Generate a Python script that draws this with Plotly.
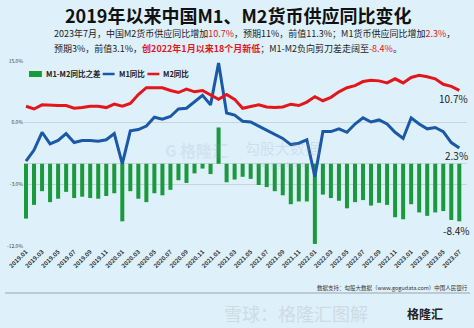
import plotly.graph_objects as go

months = [f"{y}.{m:02d}" for y in range(2019, 2024) for m in range(1, 13)][:55]

m2 = [8.4, 8.0, 8.6, 8.5, 8.5, 8.5, 8.1, 8.2, 8.4, 8.4, 8.2, 8.7,
      8.4, 8.8, 10.1, 11.1, 11.1, 11.1, 10.7, 10.4, 10.9, 10.5, 10.7, 10.1,
      9.4, 10.1, 9.4, 8.1, 8.3, 8.6, 8.3, 8.2, 8.3, 8.7, 8.5, 9.0,
      9.8, 9.2, 9.7, 10.5, 11.1, 11.4, 12.0, 12.2, 12.1, 11.8, 12.4, 11.8,
      12.6, 12.9, 12.7, 12.4, 11.6, 11.3, 10.7]

m1 = [0.4, 2.0, 4.6, 2.9, 3.4, 4.4, 3.1, 3.4, 3.4, 3.3, 3.5, 4.4,
      0.0, 4.8, 5.0, 5.5, 6.8, 6.5, 6.9, 8.0, 8.1, 9.1, 10.0, 8.6,
      14.7, 7.4, 7.1, 6.2, 6.1, 5.5, 4.9, 4.2, 3.7, 2.8, 3.0, 3.5,
      -1.9, 4.7, 4.7, 5.1, 4.6, 5.8, 6.7, 6.1, 6.4, 5.8, 4.6, 3.7,
      6.7, 5.8, 5.1, 5.3, 4.7, 3.1, 2.3]

diff = [round(a - b, 1) for a, b in zip(m1, m2)]

tick_idx = list(range(0, 55, 2))
tick_labels = [months[i] for i in tick_idx]
y_ticks = [15, 6, -3, -12]
y_tick_labels = ["15.0%", "6.0%", "-3.0%", "-12.0%"]
legend_names = ["M1-M2同比之差", "M1同比", "M2同比"]

x = list(range(len(months)))
BG = "#def0fa"
RED = "#e3161b"
BLUE = "#1b58a8"
GREEN = "#1a9a3c"

fig = go.Figure()
fig.add_trace(go.Bar(x=x, y=diff, name=legend_names[0], marker_color=GREEN,
                     marker_line_width=0, width=0.5))
fig.add_trace(go.Scatter(x=x, y=m1, name=legend_names[1], mode="lines",
                         line=dict(color=BLUE, width=3)))
fig.add_trace(go.Scatter(x=x, y=m2, name=legend_names[2], mode="lines",
                         line=dict(color=RED, width=3)))

font_cn = "Noto Sans CJK SC"

fig.update_layout(
    width=474, height=328,
    margin=dict(l=22, r=7, t=61, b=82),
    paper_bgcolor=BG, plot_bgcolor=BG,
    font=dict(family=font_cn, color="#222"),
    bargap=0.5,
    showlegend=False,
    xaxis=dict(range=[-0.25, 54.96], tickmode="array", tickvals=tick_idx,
               ticktext=["<b>%s</b>" % t for t in tick_labels], tickangle=-45, showgrid=False,
               tickfont=dict(size=6, color="#333"), ticks="", zeroline=False,
               showline=False),
    yaxis=dict(range=[-12, 15], tickmode="array", tickvals=y_ticks,
               ticktext=y_tick_labels, showgrid=True, gridcolor="#c9d3da",
               gridwidth=1, tickfont=dict(size=5, color="#444"), ticks="",
               zeroline=True, zerolinecolor="#c9d3da", zerolinewidth=1),
)

H = 185.0
def py(pix):  # pixel y (from top) -> paper coordinate
    return (246 - pix) / H
def px(pix):
    return (pix - 22) / 445.0

line1 = ("2023年7月，中国M2货币供应同比增加<span style='color:%s'>10.7%%</span>，预期11%%，前值11.3%%；"
         "M1货币供应同比增加<span style='color:%s'>2.3%%</span>，" % (RED, RED))
line2 = ("预期3%%，前值3.1%%，<span style='color:%s'><b>创2022年1月以来18个月新低</b></span>；"
         "M1-M2负向剪刀差走阔至<span style='color:%s'>-8.4%%</span>。" % (RED, RED))

annotations = [
    dict(text="<b>2019年以来中国M1、M2货币供应同比变化</b>", x=px(237), y=py(15),
         font=dict(size=18, color="#111")),
    dict(text=line1, x=px(50), y=py(33), xanchor="left", font=dict(size=9, color="#222")),
    dict(text=line2, x=px(50), y=py(48), xanchor="left", font=dict(size=9, color="#222")),
    dict(text="10.7%", x=px(470), y=py(98), xanchor="right", font=dict(size=10, color="#222")),
    dict(text="2.3%", x=px(470), y=py(155), xanchor="right", font=dict(size=10, color="#222")),
    dict(text="-8.4%", x=px(472), y=py(230), xanchor="right", font=dict(size=10, color="#222")),
    dict(text="数据支持：勾股大数据（www.gogudata.com）中国人民银行", x=px(470), y=py(288),
         xanchor="right", font=dict(size=5.5, color="#333")),
    dict(text="<b>G 格隆汇</b>", x=px(195), y=py(150), font=dict(size=16, color="rgba(140,160,180,0.18)")),
    dict(text="勾股大数据", x=px(282), y=py(147), font=dict(size=15, color="rgba(140,160,180,0.22)")),
    dict(text="www.gogudata.com", x=px(282), y=py(164), font=dict(size=6, color="rgba(140,160,180,0.3)")),
    dict(text="雪球：格隆汇图解", x=px(370), y=py(313), font=dict(size=18, color="rgba(205,216,224,0.9)")),
    dict(text="<b>格隆汇</b>", x=px(445), y=py(313), font=dict(size=12, color="#222")),
    # legend labels
    dict(text="<b>%s</b>" % legend_names[0], x=px(42), y=py(74), xanchor="left", font=dict(size=7.5, color="#222")),
    dict(text="<b>%s</b>" % legend_names[1], x=px(115), y=py(74), xanchor="left", font=dict(size=7.5, color="#222")),
    dict(text="<b>%s</b>" % legend_names[2], x=px(160), y=py(74), xanchor="left", font=dict(size=7.5, color="#222")),
]
for a in annotations:
    a.setdefault("xref", "paper")
    a.setdefault("yref", "paper")
    a.setdefault("showarrow", False)
    a.setdefault("yanchor", "middle")
fig.update_layout(annotations=annotations)

fig.add_shape(type="line", xref="paper", yref="paper", x0=px(3), x1=px(470),
              y0=py(293), y1=py(293), line=dict(color="#9aa5ad", width=1))
# legend symbols
fig.add_shape(type="rect", xref="paper", yref="paper", x0=px(27), x1=px(40),
              y0=py(77), y1=py(71), fillcolor=GREEN, line_width=0)
fig.add_shape(type="line", xref="paper", yref="paper", x0=px(101), x1=px(113),
              y0=py(74), y1=py(74), line=dict(color=BLUE, width=2.5))
fig.add_shape(type="line", xref="paper", yref="paper", x0=px(146), x1=px(158),
              y0=py(74), y1=py(74), line=dict(color=RED, width=2.5))

fig.write_html("out.html")
